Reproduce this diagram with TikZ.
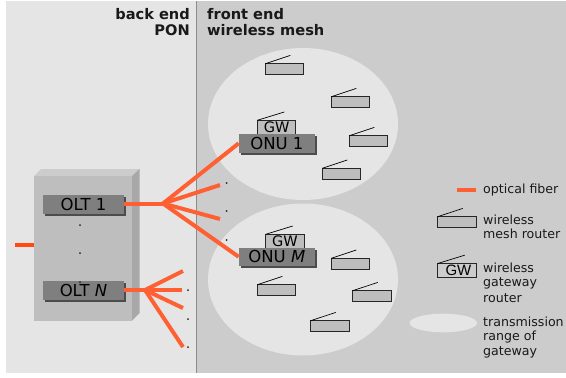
\documentclass[tikz,border=0pt]{standalone}
\usepackage{fontspec}
\setmainfont{DejaVu Sans}
\newfontfamily\arialish{Liberation Sans}
\definecolor{bgleft}{HTML}{E5E5E5}
\definecolor{bgright}{HTML}{CCCCCC}
\definecolor{boxfront}{HTML}{BEBEBE}
\definecolor{boxside}{HTML}{A8A8A8}
\definecolor{dark}{HTML}{7F7F7F}
\definecolor{fiber}{HTML}{FF6033}
\definecolor{feed}{HTML}{FF4A14}
\newcommand{\fs}[1]{\fontsize{#1}{#1}\selectfont}
\tikzset{
  rbox/.style={draw=black!85,line width=0.9pt,fill=boxfront,minimum width=38.5pt,minimum height=10.8pt,inner sep=0pt,outer sep=0pt,anchor=north west},
  gwbox/.style={draw=black!85,line width=0.9pt,fill=boxfront,minimum width=38.5pt,minimum height=14pt,inner sep=0pt,outer sep=0pt,anchor=north west,font=\fs{14.5}},
  ant/.style={black,line width=0.7pt},
  unit/.style={fill=dark,minimum height=18.6pt,inner sep=0pt,outer sep=0pt,anchor=north west,font=\fs{16.5},text=black,
    preaction={draw=none,fill=black!70,transform canvas={shift={(2pt,-2pt)}}}},
  fib/.style={draw=fiber,line width=4pt},
  lab/.style={anchor=west,inner sep=0pt,font=\fs{12.6},text=black!90},
  head/.style={inner sep=0pt,font=\fs{14.6}\bfseries,text=black!90}
}
\newcommand{\rtr}[3]{\node[rbox] (#1) at (#2,#3) {}; \draw[ant] (#1.north west) -- ++(25,-8.3);}
\begin{document}
\begin{tikzpicture}[x=1pt,y=-1pt]
\useasboundingbox (0,0) rectangle (566,378);
\fill[white] (0,0) rectangle (566,378);
\fill[bgleft] (6,1) rectangle (196.5,373);
\fill[bgright] (196.5,1) rectangle (566,373);
\draw[black!45,line width=1pt] (196.5,1) -- (196.5,373);

% cells
\fill[bgleft] (303,124) ellipse [x radius=95,y radius=76];
\fill[bgleft] (303,279.5) ellipse [x radius=95,y radius=76];

% OLT chassis
\fill[black!20] (34,176) -- (41,169) -- (139.5,169) -- (132,176) -- cycle;
\fill[boxside] (132,176) -- (139.5,169) -- (139.5,313) -- (132,320.5) -- cycle;
\node[fill=boxfront,minimum width=98pt,minimum height=144.5pt,inner sep=0pt,outer sep=0pt,anchor=north west] (chassis) at (34,176) {};
\coordinate (inport) at (34,244.5);
\coordinate (infeed) at (15,244.5);
\draw[draw=feed,line width=4pt] (infeed) -- (inport);

% units
\node[unit,minimum width=80.5pt] (olt1) at (43.3,195) {OLT 1};
\node[unit,minimum width=80.5pt] (oltn) at (43.3,281) {OLT \textit{N}};

% routers ring 1
\rtr{ra}{265.3}{63.7}
\rtr{rb}{331.3}{96.7}
\rtr{rc}{349.3}{135.7}
\rtr{rd}{322.3}{168.3}
\node[gwbox] (gw1) at (257.3,120.3) {GW};
\draw[ant] (gw1.north west) -- ++(27,-8.3);
\node[unit,minimum width=76.3pt] (onu1) at (238.7,134) {ONU 1};

% routers ring 2
\rtr{re}{331.3}{258.3}
\rtr{rf}{352.7}{290.7}
\rtr{rg}{257.3}{284.7}
\rtr{rh}{310.7}{320.7}
\node[gwbox] (gw2) at (265.7,234.3) {GW};
\draw[ant] (gw2.north west) -- ++(27,-8.3);
\node[unit,minimum width=76.3pt] (onum) at (238.7,247.5) {ONU \textit{M}};

% fibers
\coordinate (j1) at (163,203.5);
\coordinate (jn) at (145,290);
\coordinate (s1) at (220,185);
\coordinate (s2) at (220,219);
\coordinate (t1) at (183,271);
\coordinate (t2) at (182,290);
\coordinate (t3) at (183,308);
\coordinate (t4) at (183,347);
\draw[fib] (olt1.east |- j1) -- (j1);
\draw[fib] (j1) -- (onu1.west);
\draw[fib] (j1) -- (s1);
\draw[fib] (j1) -- (s2);
\draw[fib] (j1) -- (onum.west);
\draw[fib] (oltn.east |- jn) -- (jn);
\draw[fib] (jn) -- (t1);
\draw[fib] (jn) -- (t2);
\draw[fib] (jn) -- (t3);
\draw[fib] (jn) -- (t4);

% dots
\foreach \p/\q in {80/225,80/253,80/282,226.7/183,226.7/211,226.7/240,188/290,188/319,188/347}
  \fill[black!85] (\p,\q) circle [radius=1pt];

% headers
\node[head,anchor=east] (h1) at (190,14.5) {back end};
\node[head,anchor=east] (h2) at (190,30.5) {PON};
\node[head,anchor=west] (h3) at (207,14.5) {front end};
\node[head,anchor=west] (h4) at (207,30.5) {wireless mesh};

% legend
\coordinate (la) at (457,190);
\coordinate (lb) at (476,190);
\draw[fib] (la) -- (lb);
\node[lab] (l1) at (483,190.5) {optical fiber};
\rtr{lr}{437.7}{216.7}
\node[lab] (l2) at (483,220) {wireless};
\node[lab] (l3) at (483,233.5) {mesh router};
\node[gwbox,fill=none,font=\fs{15}\arialish] (lg) at (437.7,263.5) {\hspace{3pt}\raisebox{-2pt}{GW}};
\draw[ant] (lg.north west) -- ++(27,-8.3);
\node[lab] (l4) at (483,268) {wireless};
\node[lab] (l5) at (483,283) {gateway};
\node[lab] (l6) at (483,298) {router};
\fill[bgleft] (443.3,323) ellipse [x radius=33.7,y radius=9.3];
\node[lab] (l7) at (483,322) {transmission};
\node[lab] (l8) at (483,337) {range of};
\node[lab] (l9) at (483,352) {gateway};
\end{tikzpicture}
\end{document}
